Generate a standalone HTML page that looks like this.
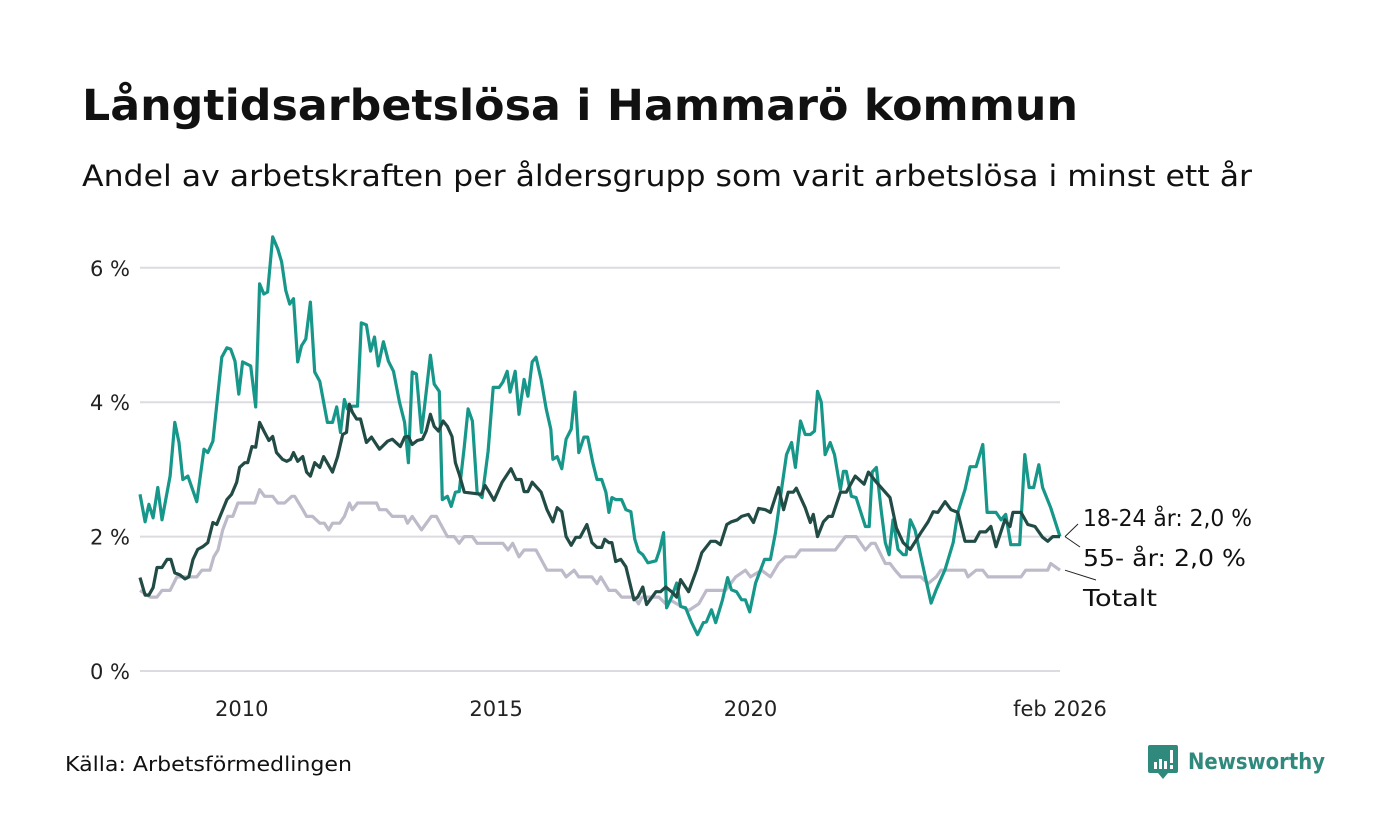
<!DOCTYPE html>
<html><head><meta charset="utf-8"><style>
html,body{margin:0;padding:0;background:#fff;}
svg{display:block;font-family:"DejaVu Sans","Liberation Sans",sans-serif;}
</style></head><body>
<svg id="chart" width="1400" height="840" viewBox="0 0 1400 840">
<text x="82" y="120" font-size="43" font-weight="bold" fill="#111" textLength="996" lengthAdjust="spacingAndGlyphs">Långtidsarbetslösa i Hammarö kommun</text>
<text x="82" y="186" font-size="29" fill="#111" textLength="1170" lengthAdjust="spacingAndGlyphs">Andel av arbetskraften per åldersgrupp som varit arbetslösa i minst ett år</text>
<g id="grid"></g>
<g id="ylabels"></g>
<g id="xlabels"></g>
<g id="lines"></g>
<g id="endlabels"></g>
<text x="65" y="771" font-size="20" fill="#111" textLength="287" lengthAdjust="spacingAndGlyphs">Källa: Arbetsförmedlingen</text>
<g>
<path d="M1150 745 h26 a2 2 0 0 1 2 2 v24 a2 2 0 0 1 -2 2 h-8 l-5 6 l-5 -6 h-8 a2 2 0 0 1 -2 -2 v-24 a2 2 0 0 1 2 -2z" fill="#2f8a7d"/>
<rect x="1154" y="762" width="3" height="7" fill="#fff"/><rect x="1159" y="759" width="3" height="10" fill="#fff"/><rect x="1164" y="761" width="3" height="8" fill="#fff"/><rect x="1170" y="750" width="3" height="13" fill="#fff"/><rect x="1170" y="765" width="3" height="4" fill="#fff"/>
<text x="1188" y="769" font-size="22" font-weight="bold" fill="#2f8a7d" textLength="137" lengthAdjust="spacingAndGlyphs">Newsworthy</text>
</g>
</svg>
<script>
// month index from jan 2008
const yTicks = [0, 2, 4, 6];
const yTickLabels = ["0 %", "2 %", "4 %", "6 %"];
const xTicks = [24, 84, 144, 217];
const xTickLabels = ["2010", "2015", "2020", "feb 2026"];
const youngMonths = [0,1.2,2.1,3.1,4.2,5.2,7.1,8.2,9.2,10.1,11.3,13.4,15.1,16,17.2,19.3,20.5,21.4,22.4,23.3,24.2,26.1,27.3,28.2,29.2,30.1,31.3,32.5,33.4,34.4,35.3,36.2,37.2,38.1,39.1,40.2,41.2,42.4,44.2,45.4,46.4,47.3,48.2,48.9,50.1,51.3,52.2,53.4,54.4,55.3,56.2,57.4,58.6,59.8,61.2,62.4,63.3,64.2,65.2,66.4,67.5,68.5,69.4,70.6,71.3,72.5,73.4,74.4,75.3,76.5,77.4,78.4,79.5,80.7,82.1,83.3,84.7,85.6,86.6,87.3,88.5,89.4,90.6,91.5,92.5,93.4,94.6,95.8,96.9,97.4,98.4,99.5,100.5,101.7,102.6,103.5,104.7,105.6,106.8,107.8,108.9,109.9,110.6,111.3,112.2,113.6,114.6,115.8,116.7,117.6,118.6,119.8,121.7,122.6,123.5,124.2,125.4,126.6,127.5,128.7,130.1,131.5,132.9,133.6,134.8,135.8,137.4,138.6,139.5,140.7,141.9,142.8,143.8,145.2,147.3,148.7,149.9,151.3,152.5,153.7,154.6,155.8,156.9,158.1,159.1,159.8,160.7,161.6,162.8,163.8,165.2,165.9,166.6,167.8,168.9,171.1,172,172.7,173.7,174.8,175.8,176.7,177.6,178.8,180,180.7,181.7,182.8,184.2,186.6,187.8,189.9,191.8,192.9,194.6,195.8,197.2,198.8,199.8,201.9,203.1,204.2,205.4,207.5,208.7,209.7,210.8,212,212.9,214.8,217];
const youngValues = [2.63,2.22,2.48,2.28,2.73,2.25,2.9,3.7,3.4,2.85,2.9,2.52,3.3,3.25,3.42,4.67,4.81,4.79,4.61,4.12,4.6,4.54,3.93,5.76,5.61,5.64,6.46,6.28,6.09,5.66,5.46,5.54,4.6,4.84,4.94,5.49,4.45,4.31,3.7,3.7,3.93,3.55,4.04,3.9,3.94,3.94,5.18,5.15,4.76,4.97,4.54,4.9,4.61,4.46,4,3.7,3.1,4.45,4.42,3.55,4.15,4.7,4.27,4.16,2.55,2.6,2.45,2.66,2.67,3.34,3.9,3.72,2.66,2.58,3.27,4.22,4.22,4.3,4.46,4.15,4.46,3.82,4.34,4.09,4.6,4.67,4.34,3.9,3.6,3.15,3.19,3.01,3.45,3.6,4.15,3.25,3.48,3.48,3.1,2.85,2.85,2.66,2.36,2.58,2.55,2.55,2.4,2.37,1.96,1.78,1.73,1.61,1.64,1.81,2.06,0.94,1.1,1.31,0.96,0.94,0.72,0.54,0.72,0.73,0.91,0.72,1.06,1.39,1.21,1.18,1.06,1.06,0.88,1.31,1.66,1.66,2.06,2.7,3.22,3.4,3.03,3.72,3.52,3.52,3.57,4.16,4,3.22,3.4,3.22,2.7,2.97,2.97,2.6,2.58,2.15,2.15,2.96,3.03,2.4,1.91,1.73,2.25,1.81,1.73,1.73,2.25,2.1,1.7,1.01,1.21,1.51,1.91,2.36,2.7,3.04,3.04,3.37,2.36,2.36,2.25,2.33,1.88,1.88,3.22,2.73,2.73,3.07,2.73,2.43,2.0];
const oldMonths = [0,1.2,2.1,3.1,4,5.2,6.4,7.3,8.2,9.4,10.6,11.5,12.5,13.6,14.8,16,17.2,18.1,20.5,21.6,22.8,23.5,24.7,25.4,26.4,27.3,28.2,29.4,30.4,31.3,32.2,33.6,34.6,35.5,36.2,37.2,38.4,39.3,40.2,41.2,42.4,43.3,45.4,46.6,47.8,48.7,49.4,50.1,51.1,52,53.4,54.6,56.5,58.4,59.5,61.4,62.4,63.3,64.2,65.4,66.6,67.5,68.5,69.4,70.4,71.5,72.5,73.6,74.4,75.3,76.5,80.5,81.4,82.4,83.5,85.4,87.5,88.7,89.9,90.6,91.5,92.5,94.6,96,97.4,98.4,99.5,100.5,101.7,102.8,103.8,105.4,106.6,107.8,108.9,109.6,110.6,111.3,112.2,113.4,114.6,116.5,117.4,118.6,119.5,121.7,122.8,124,125.4,126.6,127.5,129.4,131.3,132.5,134.6,135.8,136.9,138.4,139.5,140.9,141.9,143.5,144.7,145.9,147.5,148.7,150.6,151.8,152.9,154.1,154.8,156.9,158.1,158.8,159.8,161.2,162.4,163.3,165.2,166.6,168.7,170.8,171.8,173.7,176.9,178.4,180,181.7,184.2,185.9,187.1,188.2,189.9,191.3,192.9,194.6,196.9,198.1,199.5,200.7,201.9,204,205.2,205.9,207.8,209.4,211.1,212.9,214.1,215.3,217];
const oldValues = [1.39,1.13,1.13,1.24,1.54,1.54,1.66,1.66,1.46,1.43,1.37,1.4,1.66,1.81,1.85,1.91,2.21,2.18,2.55,2.63,2.81,3.03,3.1,3.1,3.34,3.33,3.7,3.55,3.43,3.49,3.25,3.15,3.12,3.15,3.25,3.12,3.19,2.96,2.9,3.1,3.03,3.19,2.96,3.19,3.52,3.55,3.97,3.85,3.75,3.75,3.4,3.48,3.3,3.42,3.45,3.34,3.48,3.49,3.37,3.43,3.45,3.57,3.82,3.64,3.57,3.72,3.64,3.49,3.1,2.93,2.66,2.63,2.76,2.66,2.54,2.81,3.01,2.85,2.85,2.67,2.67,2.81,2.66,2.4,2.22,2.43,2.37,2,1.87,1.99,1.99,2.18,1.91,1.84,1.84,1.96,1.91,1.91,1.63,1.66,1.55,1.06,1.1,1.25,0.99,1.18,1.18,1.25,1.18,1.1,1.36,1.18,1.51,1.76,1.93,1.93,1.88,2.18,2.22,2.25,2.3,2.33,2.21,2.42,2.4,2.36,2.73,2.4,2.66,2.66,2.72,2.43,2.21,2.33,2,2.22,2.3,2.3,2.66,2.66,2.9,2.78,2.96,2.81,2.58,2.13,1.91,1.81,2.06,2.22,2.37,2.36,2.52,2.4,2.36,1.93,1.93,2.07,2.07,2.15,1.85,2.25,2.15,2.36,2.36,2.18,2.15,1.99,1.93,2,2.0];
const totalMonths = [0,2.4,4,5.2,7.1,8.7,13.4,14.6,16.5,17.4,18.4,19.5,20.7,21.9,23.1,27.1,28.2,29.4,31.3,32.5,34.1,35.8,36.5,38.4,39.3,40.7,42.4,43.5,44.5,45.4,47.1,48.2,49.4,50.1,51.3,55.8,56.5,58.1,59.5,62.4,63.1,64.2,66.4,68.7,69.9,72.5,74.1,75.3,76.5,78.4,79.5,85.6,86.8,87.9,89.4,90.6,93.4,96,99.5,100.5,102.4,103.5,106.6,107.8,108.7,110.6,112.2,113.6,116.5,117.6,118.4,122.4,124,125.2,129.4,131.8,133.6,138.1,140.5,142.8,144,146.6,148.7,150.6,152.2,154.6,155.8,164,166.4,168.9,171.1,172.5,173.4,175.8,176.9,178.1,179.5,184.2,185.9,187.8,188.9,194.6,195.3,197.2,198.8,200,207.8,208.9,214.1,214.8,217];
const totalValues = [1.2,1.1,1.1,1.2,1.2,1.4,1.4,1.5,1.5,1.7,1.8,2.1,2.3,2.3,2.5,2.5,2.7,2.6,2.6,2.5,2.5,2.6,2.6,2.4,2.3,2.3,2.2,2.2,2.1,2.2,2.2,2.3,2.5,2.4,2.5,2.5,2.4,2.4,2.3,2.3,2.2,2.3,2.1,2.3,2.3,2.0,2.0,1.9,2.0,2.0,1.9,1.9,1.8,1.9,1.7,1.8,1.8,1.5,1.5,1.4,1.5,1.4,1.4,1.3,1.4,1.2,1.2,1.1,1.1,1.0,1.1,1.1,1.0,1.05,0.9,1.0,1.2,1.2,1.4,1.5,1.4,1.5,1.4,1.6,1.7,1.7,1.8,1.8,2.0,2.0,1.8,1.9,1.9,1.6,1.6,1.5,1.4,1.4,1.3,1.4,1.5,1.5,1.4,1.5,1.5,1.4,1.4,1.5,1.5,1.6,1.5];

const NS = "http://www.w3.org/2000/svg";
const X0 = 140, X1 = 1060, Y0 = 671, PXPCT = 67.2, MAXM = 217;
function xs(m){ return X0 + (X1 - X0) * m / MAXM; }
function ys(v){ return Y0 - v * PXPCT; }
function mk(tag, attrs, parent){ const e = document.createElementNS(NS, tag); for (const k in attrs) e.setAttribute(k, attrs[k]); parent.appendChild(e); return e; }

const grid = document.getElementById('grid'), yl = document.getElementById('ylabels'), xl = document.getElementById('xlabels');
yTicks.forEach((t, i) => {
  const ln = mk('line', {x1: X0, x2: X1, y1: ys(t), y2: ys(t), stroke: '#dddbe2', 'stroke-width': 2}, grid);
  
  
  const tx = mk('text', {x: 130, y: ys(t) + 8, 'font-size': 21, 'text-anchor': 'end', fill: '#222'}, yl);
  tx.textContent = yTickLabels[i];
  
  
});
xTicks.forEach((m, i) => {
  const tx = mk('text', {x: xs(m), y: 716, 'font-size': 21, 'text-anchor': 'middle', fill: '#222'}, xl);
  tx.textContent = xTickLabels[i];
  
  
});

const lines = document.getElementById('lines');
function drawLine(ms, vs, color, name){
  const d = ms.map((m, i) => (i ? 'L' : 'M') + xs(m).toFixed(1) + ' ' + ys(vs[i]).toFixed(1)).join(' ');
  const p = mk('path', {d: d, fill: 'none', stroke: color, 'stroke-width': 3.2, 'stroke-linejoin': 'round'}, lines);
  
  
}
drawLine(totalMonths, totalValues, '#bdbac9', 'line-totalt');
drawLine(youngMonths, youngValues, '#17968a', 'line-18-24');
drawLine(oldMonths, oldValues, '#224b45', 'line-55-plus');

const el = document.getElementById('endlabels');
function endLabel(v, ly, lx2, ly2, text, w, name){
  const ex = xs(MAXM), ey = ys(v);
  const l = mk('line', {x1: ex + 5, y1: ey, x2: lx2, y2: ly2, stroke: '#222', 'stroke-width': 1}, el);
  
  
  const t = mk('text', {x: 1083, y: ly, 'font-size': 23, fill: '#111', textLength: w, lengthAdjust: 'spacingAndGlyphs'}, el);
  t.textContent = text;
  
  
}
endLabel(youngValues[youngValues.length - 1], 526, 1078, 524, '18-24 år: 2,0 %', 169, 'label-18-24');
endLabel(oldValues[oldValues.length - 1], 566, 1080, 547, '55- år: 2,0 %', 163, 'label-55-plus');
endLabel(totalValues[totalValues.length - 1], 606, 1096, 580, 'Totalt', 74, 'label-totalt');
</script>
</body></html>
